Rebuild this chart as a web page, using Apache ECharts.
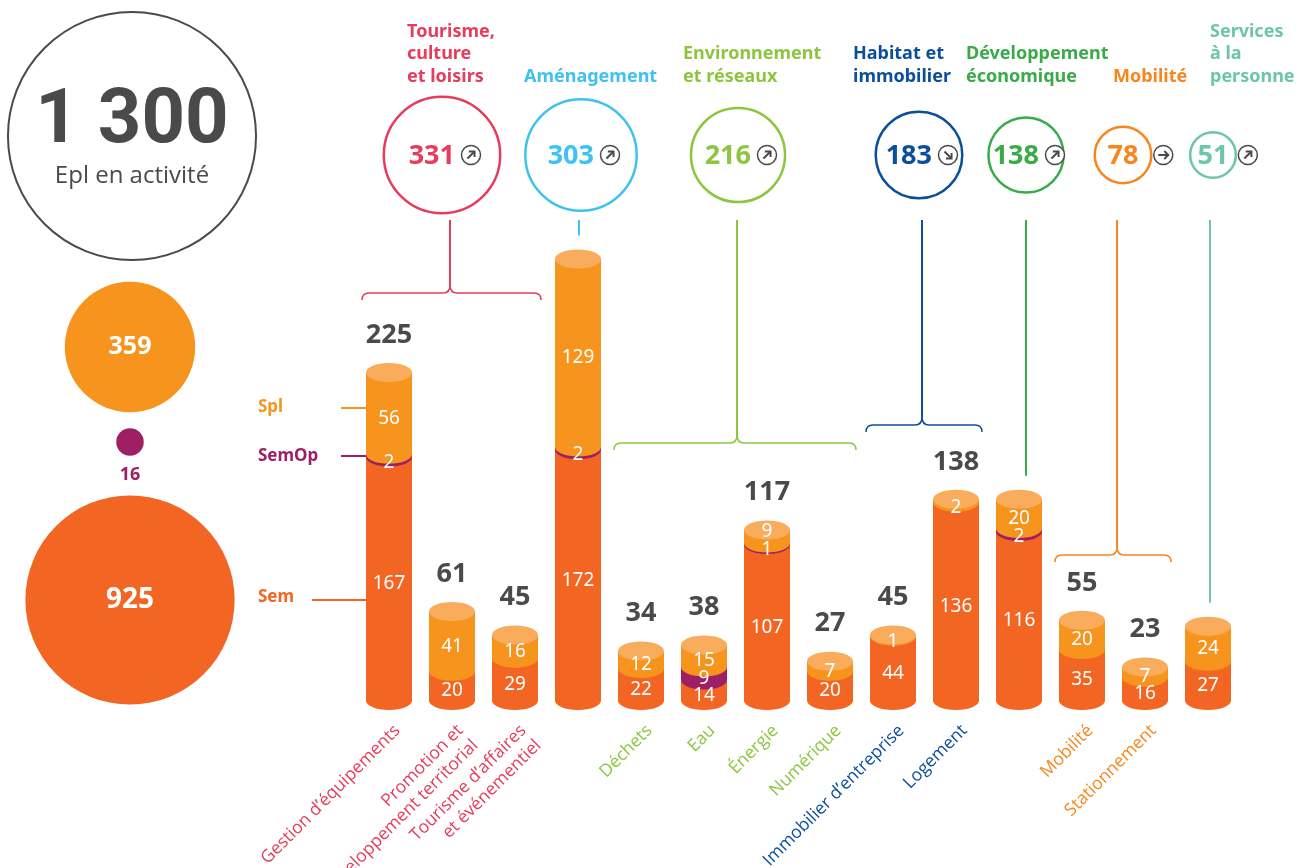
<!DOCTYPE html>
<html lang="fr">
<head>
<meta charset="utf-8">
<title>Epl en activité</title>
<script src="https://cdn.jsdelivr.net/npm/echarts@6/dist/echarts.min.js"></script>
<style>
  html, body { margin: 0; padding: 0; background: #fff; }
  #chart { width: 1298px; height: 868px; }
</style>
</head>
<body>
<div id="chart"></div>
<script>
// --- données ---
const categories = [
  'Gestion d’équipements', 'Promotion et\ndéveloppement territorial', 'Tourisme d’affaires\net événementiel',
  'Aménagement', 'Déchets', 'Eau', 'Énergie', 'Numérique', 'Immobilier d’entreprise', 'Logement',
  'Développement économique', 'Mobilité', 'Stationnement', 'Services à la personne'
];
const semValues   = [167, 20, 29, 172, 22, 14, 107, 20, 44, 136, 116, 35, 16, 27];
const semOpValues = [2, 0, 0, 2, 0, 9, 1, 0, 0, 0, 2, 0, 0, 0];
const splValues   = [56, 41, 16, 129, 12, 15, 9, 7, 1, 2, 20, 20, 7, 24];
const groupOfBar  = [0, 0, 0, 1, 2, 2, 2, 2, 3, 3, 4, 5, 5, 6];
const groupNames  = [
  'Tourisme,\nculture\net loisirs', 'Aménagement', 'Environnement\net réseaux', 'Habitat et\nimmobilier',
  'Développement\néconomique', 'Mobilité', 'Services\nà la\npersonne'
];
const groupTrends = ['up', 'up', 'up', 'down', 'up', 'flat', 'up'];
const statusNames = ['Spl', 'SemOp', 'Sem'];

// --- styles / mise en page ---
const groupColors = ['#e63d5c', '#3fc2ef', '#8cc63f', '#0b4f9c', '#3aab49', '#f7861f', '#6cc6a7'];
const statusColors = ['#f7941d', '#9e1f63', '#f26522'];
const CAP = '#f9ad5c';
const DARK = '#4a4a4d';
const RY = 9.5, BAR_W = 46;
const K = 3.44; // rayon = K * sqrt(valeur)
const titleX = [407, 524, 683, 853, 966, 1113, 1210];
const circleX = [442, 581, 738, 919, 1026, 1123, 1213];
const lineX = [450, 579, 737, 922, 1026, 1117, 1210];
const braceY = [293, null, 443, 425, null, 555, null];
const statusCenters = [[130, 347], [130, 442], [130, 600]];
const legendY = [[407, 408], [456, 456], [597, 600]];

const groupSize = groupNames.map((g, k) => groupOfBar.filter(x => x === k).length);
const barTotal = semValues.map((v, i) => v + semOpValues[i] + splValues[i]);
const groupTotals = groupNames.map((g, k) => barTotal.reduce((s, v, i) => s + (groupOfBar[i] === k ? v : 0), 0));
const statusTotals = [splValues, semOpValues, semValues].map(a => a.reduce((s, v) => s + v, 0));
const totalEpl = statusTotals.reduce((s, v) => s + v, 0);
const fmt = n => String(n).replace(/\B(?=(\d{3})+(?!\d))/g, ' ');
const FONT = '"Noto Sans", sans-serif';

function renderBar(params, api) {
  const i = api.value(0);
  const parts = [
    { v: api.value(1), color: statusColors[2] },
    { v: api.value(2), color: statusColors[1] },
    { v: api.value(3), color: statusColors[0] }
  ];
  const x = api.coord([i, 0])[0];
  const base = api.coord([i, 0])[1];
  const half = BAR_W / 2;
  const shapes = [], texts = [];
  let acc = 0, top = -1;
  parts.forEach((p, k) => { if (p.v > 0) top = k; });
  let prevTiny = false;
  parts.forEach((p, k) => {
    if (!(p.v > 0)) return;
    const y0 = api.coord([i, acc])[1];
    const y1 = api.coord([i, acc + p.v])[1];
    acc += p.v;
    shapes.push({ type: 'ellipse', shape: { cx: x, cy: y0, rx: half, ry: RY }, style: { fill: p.color } });
    shapes.push({ type: 'rect', shape: { x: x - half, y: y1, width: BAR_W, height: y0 - y1 }, style: { fill: p.color } });
    const h = y0 - y1;
    let ly;
    if (h < 6) ly = y0 + 5;
    else if (k === top && prevTiny && h < 20) ly = y1 + 2;
    else ly = (y0 + y1) / 2 + 5;
    prevTiny = h < 6;
    texts.push({
      type: 'text', x: x, y: ly,
      style: { text: String(p.v), fill: '#fff', fontSize: 19, fontFamily: FONT, align: 'center', verticalAlign: 'middle' }
    });
  });
  const topY = api.coord([i, acc])[1];
  shapes.push({ type: 'ellipse', shape: { cx: x, cy: topY, rx: half, ry: RY }, style: { fill: CAP } });
  const g = groupOfBar[i];
  if (groupSize[g] > 1) {
    texts.push({
      type: 'text', x: x, y: topY - RY - 28,
      style: { text: String(acc), fill: DARK, fontSize: 27, fontWeight: 'bold', fontFamily: FONT, align: 'center', verticalAlign: 'middle' }
    });
    texts.push({
      type: 'text', x: x + 1, y: base + 20, rotation: Math.PI / 4,
      style: { text: categories[i], fill: groupColors[g], fontSize: 17.5, lineHeight: 21, fontFamily: '"Open Sans", sans-serif', align: 'right', verticalAlign: 'top' }
    });
  }
  return { type: 'group', children: shapes.concat(texts) };
}

const chart = echarts.init(document.getElementById('chart'));
chart.setOption({
  animation: false,
  grid: { left: 357.5, right: 58.5, top: 117.5, bottom: 167.5 },
  xAxis: { type: 'category', data: categories, show: false },
  yAxis: { type: 'value', min: 0, max: 400, show: false },
  series: [{
    type: 'custom',
    clip: false,
    renderItem: renderBar,
    data: categories.map((c, i) => [i, semValues[i], semOpValues[i], splValues[i]])
  }]
});

const px = i => chart.convertToPixel({ xAxisIndex: 0 }, i);
const py = v => chart.convertToPixel({ yAxisIndex: 0 }, v);

function arrowIcon(cx, cy, dir) {
  const ang = dir === 'up' ? -Math.PI / 4 : dir === 'down' ? Math.PI / 4 : 0;
  const c = Math.cos(ang), s = Math.sin(ang);
  const P = (u, v) => [cx + u * c - v * s, cy + u * s + v * c];
  const a = P(-5, 0), b = P(5, 0);
  return [
    { type: 'circle', shape: { cx, cy, r: 9.5 }, style: { fill: '#fff', stroke: DARK, lineWidth: 1.5 } },
    { type: 'line', shape: { x1: a[0], y1: a[1], x2: b[0], y2: b[1] }, style: { stroke: DARK, lineWidth: 2 } },
    { type: 'polyline', shape: { points: [P(1, -4), P(5, 0), P(1, 4)] }, style: { stroke: DARK, lineWidth: 2, fill: null } }
  ];
}

function brace(x0, x1, cx, y, color) {
  const st = { stroke: color, lineWidth: 1.5, fill: null };
  return [
    { type: 'bezierCurve', shape: { x1: x0, y1: y + 7, cpx1: x0, cpy1: y, x2: x0 + 7, y2: y }, style: st },
    { type: 'line', shape: { x1: x0 + 7, y1: y, x2: cx - 7, y2: y }, style: st },
    { type: 'bezierCurve', shape: { x1: cx - 7, y1: y, cpx1: cx, cpy1: y, x2: cx, y2: y - 8 }, style: st },
    { type: 'bezierCurve', shape: { x1: cx, y1: y - 8, cpx1: cx, cpy1: y, x2: cx + 7, y2: y }, style: st },
    { type: 'line', shape: { x1: cx + 7, y1: y, x2: x1 - 7, y2: y }, style: st },
    { type: 'bezierCurve', shape: { x1: x1 - 7, y1: y, cpx1: x1, cpy1: y, x2: x1, y2: y + 7 }, style: st }
  ];
}

const gr = [];
// total
gr.push({ type: 'circle', shape: { cx: 132, cy: 136, r: K * Math.sqrt(totalEpl) }, style: { fill: null, stroke: DARK, lineWidth: 2 } });
gr.push({ type: 'text', x: 132, y: 123, style: { text: fmt(totalEpl), fill: DARK, fontSize: 76, fontWeight: 'bold', fontFamily: 'Roboto, sans-serif', align: 'center', verticalAlign: 'middle' } });
gr.push({ type: 'text', x: 132, y: 176, style: { text: 'Epl en activité', fill: DARK, fontSize: 24, fontFamily: '"Open Sans", sans-serif', align: 'center', verticalAlign: 'middle' } });

// statuts
const gx = px(0) - BAR_W / 2;
statusNames.forEach((name, k) => {
  const [cx, cy] = statusCenters[k];
  const r = K * Math.sqrt(statusTotals[k]);
  gr.push({ type: 'circle', shape: { cx, cy, r }, style: { fill: statusColors[k] } });
  if (r > 30) {
    gr.push({ type: 'text', x: cx, y: cy, style: { text: String(statusTotals[k]), fill: '#fff', fontSize: k === 2 ? 28 : 25, fontWeight: 'bold', fontFamily: FONT, align: 'center', verticalAlign: 'middle' } });
  } else {
    gr.push({ type: 'text', x: cx, y: cy + r + 19, style: { text: String(statusTotals[k]), fill: statusColors[k], fontSize: 18, fontWeight: 'bold', fontFamily: FONT, align: 'center', verticalAlign: 'middle' } });
  }
  gr.push({ type: 'text', x: 258, y: legendY[k][0], style: { text: name, fill: statusColors[k], fontSize: 17, fontWeight: 'bold', fontFamily: FONT, align: 'left', verticalAlign: 'middle' } });
  gr.push({ type: 'line', shape: { x1: k === 2 ? 312 : 341, y1: legendY[k][1], x2: gx, y2: legendY[k][1] }, style: { stroke: statusColors[k], lineWidth: 2 } });
});

// familles d'activité
groupNames.forEach((name, g) => {
  const col = groupColors[g];
  const idx = groupOfBar.map((x, i) => x === g ? i : -1).filter(i => i >= 0);
  const first = idx[0], last = idx[idx.length - 1];
  const lx = lineX[g];
  const cx = circleX[g], cy = 155;
  const r = K * 0.93 * Math.sqrt(groupTotals[g]);
  gr.push({ type: 'text', x: titleX[g], y: 88, style: { text: name, fill: col, fontSize: 18, lineHeight: 22.5, fontWeight: 'bold', fontFamily: FONT, align: 'left', verticalAlign: 'bottom' } });
  gr.push({ type: 'circle', shape: { cx, cy, r }, style: { fill: '#fff', stroke: col, lineWidth: 2.5 } });
  let tx, ix, al;
  if (r > 35) { tx = cx + 13; ix = cx + 29; al = 'right'; } else { tx = cx; ix = cx + r + 12; al = 'center'; }
  gr.push({ type: 'text', x: tx, y: cy + 1, style: { text: String(groupTotals[g]), fill: col, fontSize: 27, fontWeight: 'bold', fontFamily: FONT, align: al, verticalAlign: 'middle' } });
  arrowIcon(ix, cy, groupTrends[g]).forEach(e => gr.push(e));
  const maxTop = Math.min.apply(null, idx.map(i => py(barTotal[i])));
  const yEnd = braceY[g] != null ? braceY[g] - 8 : maxTop - RY - 14;
  gr.push({ type: 'line', shape: { x1: lx, y1: 220, x2: lx, y2: yEnd }, style: { stroke: col, lineWidth: 2 } });
  if (braceY[g] != null) {
    brace(px(first) - BAR_W / 2 - 4, px(last) + BAR_W / 2 + 3, lx, braceY[g], col).forEach(e => gr.push(e));
  }
});

chart.setOption({ graphic: gr });
</script>
</body>
</html>
